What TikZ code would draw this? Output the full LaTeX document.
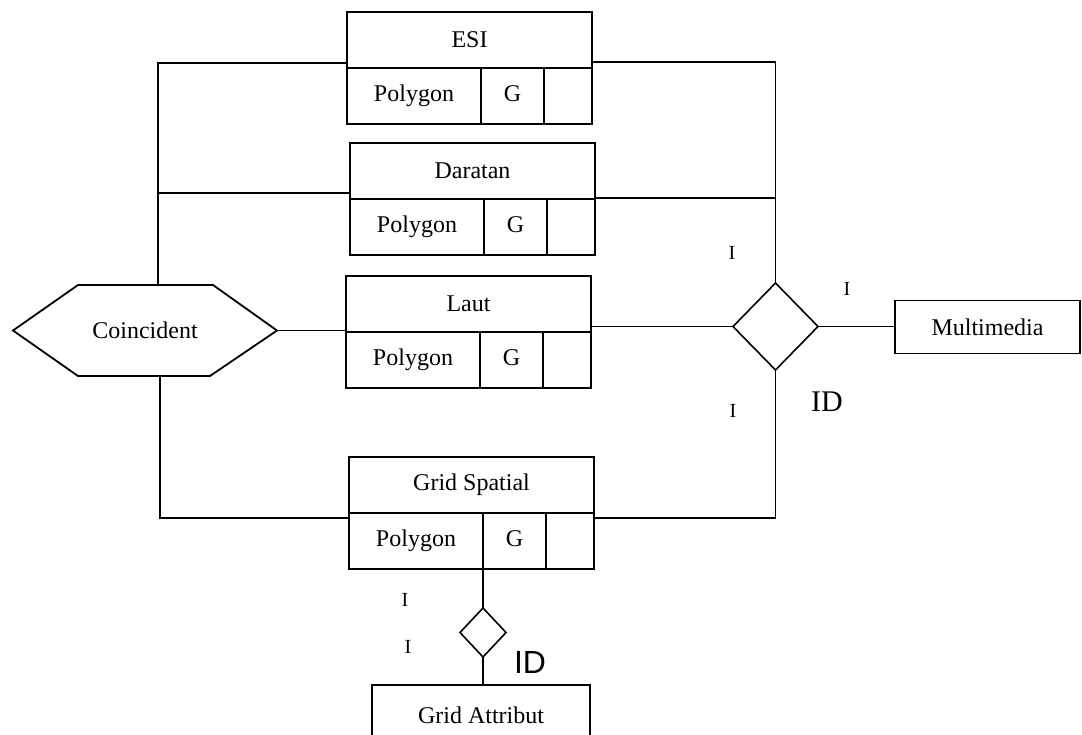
\documentclass[tikz,border=0pt]{standalone}
\usepackage{fontspec}
\setmainfont{Liberation Serif}
\newfontfamily\idsans{Liberation Sans}
\usetikzlibrary{shapes.geometric}
\tikzset{
  txt/.style={font=\fontsize{12}{14}\selectfont},
  hdr/.style={draw, line width=0.9pt, minimum width=122.5pt, minimum height=28pt, inner sep=0pt, outer sep=0pt, txt},
  cell/.style={draw, line width=0.9pt, minimum height=28pt, inner sep=0pt, outer sep=0pt, txt, text height=1.6ex, text depth=0.4ex},
  boxent/.style={draw, line width=0.9pt, inner sep=0pt, outer sep=0pt, txt},
  conn/.style={line width=0.75pt},
  reln/.style={draw, diamond, line width=0.8pt, inner sep=0pt, outer sep=0pt},
  card/.style={font=\fontsize{10}{12}\selectfont, inner sep=0pt},
  idlab/.style={font=\fontsize{15}{18}\selectfont, inner sep=0pt}
}
\newcommand{\erentity}[4]{%
  \node[hdr, anchor=north west] (#1) at (#2,#3) {#4};
  \node[cell, minimum width=67pt, anchor=north west] (#1-p) at (#1.south west) {Polygon};
  \node[cell, minimum width=31.5pt, anchor=north west] (#1-g) at (#1-p.north east) {G};
  \node[cell, minimum width=24pt, anchor=north west] (#1-e) at (#1-g.north east) {};
}
\begin{document}
\begin{tikzpicture}[x=0.5pt, y=-0.5pt]
  \useasboundingbox (0,0) rectangle (1082,734);
  \clip (0,0) rectangle (1082,734);

  % entities
  \erentity{esi}{347}{12}{ESI}
  \erentity{dar}{350}{143}{Daratan}
  \erentity{laut}{346}{276}{Laut}
  \erentity{gs}{349}{457}{Grid Spatial}

  \node[boxent, minimum width=92.5pt, minimum height=26.5pt] (mm) at (987.5,327) {Multimedia};
  \node[boxent, minimum width=109pt, minimum height=30pt] (ga) at (481,715) {Grid Attribut};

  % Coincident hexagon
  \node[txt, minimum width=132pt, minimum height=45.5pt, inner sep=0pt, outer sep=0pt] (coin) at (145,330.5) {Coincident};
  \draw[line width=0.9pt] (coin.west) -- ([xshift=32.5pt]coin.north west) -- ([xshift=-32pt]coin.north east)
     -- (coin.east) -- ([xshift=-33.5pt]coin.south east) -- ([xshift=32.5pt]coin.south west) -- cycle;

  % relationships
  \node[reln, minimum width=42.5pt, minimum height=43.5pt] (rel) at (775.5,326.5) {};
  \node[reln, minimum width=23pt, minimum height=24.5pt] (rel2) at (483,632.5) {};

  % bus coordinates
  \coordinate (bL1) at (158,63);
  \coordinate (bL2) at (158,193);
  \coordinate (bL3) at (160,518);
  \coordinate (bR1) at (775.5,62);
  \coordinate (bR2) at (775.5,198);
  \coordinate (bR3) at (775.5,518);

  % left connectors
  \draw[conn] (esi.south west |- bL1) -- (bL1) -- (coin.north -| bL1);
  \draw[conn] (bL2) -- (dar.south west |- bL2);
  \draw[conn] (coin.east) -- (laut.south west |- coin.east);
  \draw[conn] (coin.south -| bL3) -- (bL3) -- (gs-p.north west |- bL3);

  % right connectors
  \draw[conn] (esi.south east |- bR1) -- (bR1) -- (rel.north);
  \draw[conn] (dar.south east |- bR2) -- (bR2);
  \draw[conn] (laut.south east |- rel.west) -- (rel.west);
  \draw[conn] (rel.south) -- (bR3) -- (gs-e.north east |- bR3);
  \draw[conn] (rel.east) -- (mm.west |- rel.east);

  % grid spatial to grid attribut
  \draw[conn] (gs-p.south east) -- (rel2.north);
  \draw[conn] (rel2.south) -- (rel2.south |- ga.north);

  % labels
  \node[card] (c1) at (732,253) {I};
  \node[card] (c2) at (847,289) {I};
  \node[card] (c3) at (733,411) {I};
  \node[idlab] (id1) at (827,402) {ID};
  \node[card] (c4) at (405,600) {I};
  \node[card] (c5) at (408,647) {I};
  \node[idlab, font=\idsans\fontsize{16}{18}\selectfont] (id2) at (530,662) {ID};
\end{tikzpicture}
\end{document}
